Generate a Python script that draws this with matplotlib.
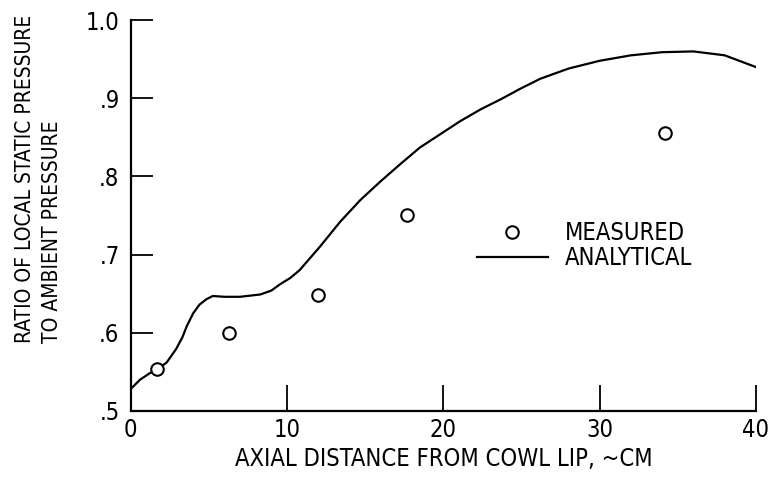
import matplotlib
matplotlib.use("Agg")
import matplotlib.pyplot as plt

# measured points
meas_x = [1.7, 6.3, 12.0, 17.7, 34.2]
meas_y = [0.553, 0.600, 0.648, 0.751, 0.856]

# analytical curve
anal_x = [0.0, 0.6, 1.2, 1.7, 2.3, 2.9, 3.3, 3.6, 4.0, 4.4, 4.85, 5.25, 6.0, 7.0,
          8.3, 9.0, 9.55, 10.2, 10.8, 12.1, 13.4, 14.7, 16.0, 17.2, 18.5, 19.8,
          21.1, 22.4, 23.7, 24.9, 26.2, 28.0, 30.0, 32.0, 34.0, 36.0, 38.0, 40.0]
anal_y = [0.528, 0.540, 0.548, 0.553, 0.562, 0.579, 0.594, 0.609, 0.625, 0.636,
          0.643, 0.647, 0.646, 0.646, 0.649, 0.654, 0.662, 0.670, 0.680, 0.710,
          0.742, 0.770, 0.794, 0.815, 0.837, 0.854, 0.871, 0.886, 0.899, 0.912,
          0.925, 0.938, 0.948, 0.955, 0.959, 0.960, 0.955, 0.940]

xticks = [0, 10, 20, 30, 40]
yticks = [0.5, 0.6, 0.7, 0.8, 0.9, 1.0]
ytick_labels = [".5", ".6", ".7", ".8", ".9", "1.0"]

plt.rcParams["font.family"] = "DejaVu Sans"
plt.rcParams["font.stretch"] = "condensed"

fig = plt.figure(figsize=(7.69, 4.8), dpi=100)
ax = fig.add_axes([0.170, 0.144, 0.813, 0.814])

ax.plot(anal_x, anal_y, color="black", linewidth=1.6, label="ANALYTICAL")
ax.plot(meas_x, meas_y, linestyle="none", marker="o", markersize=9,
        markerfacecolor="white", markeredgecolor="black", markeredgewidth=1.5,
        label="MEASURED")

ax.set_xlim(0, 40)
ax.set_ylim(0.5, 1.0)
ax.set_xticks(xticks)
ax.set_xticklabels([str(t) for t in xticks])
ax.set_yticks(yticks)
ax.set_yticklabels(ytick_labels)

for side in ["top", "right"]:
    ax.spines[side].set_visible(False)
for side in ["left", "bottom"]:
    ax.spines[side].set_linewidth(1.6)

ax.tick_params(axis="x", direction="in", length=19, width=1.3, pad=5, labelsize=17)
ax.tick_params(axis="y", direction="in", length=16, width=1.3, pad=8, labelsize=17)

ax.set_xlabel("AXIAL DISTANCE FROM COWL LIP, ~CM", fontsize=17, labelpad=4)

fig.text(0.020, 1 - 343 / 480, "RATIO OF LOCAL STATIC PRESSURE\nTO AMBIENT PRESSURE",
         rotation=90, va="bottom", ha="left", multialignment="left", fontsize=15,
         linespacing=1.4)

h, l = ax.get_legend_handles_labels()
ax.legend([h[1], h[0]], [l[1], l[0]], loc="upper left",
          bbox_to_anchor=(0.52, 0.54), frameon=False, fontsize=17,
          handlelength=3.0, handletextpad=0.7, labelspacing=0.05)

fig.savefig("out.png", dpi=100)
